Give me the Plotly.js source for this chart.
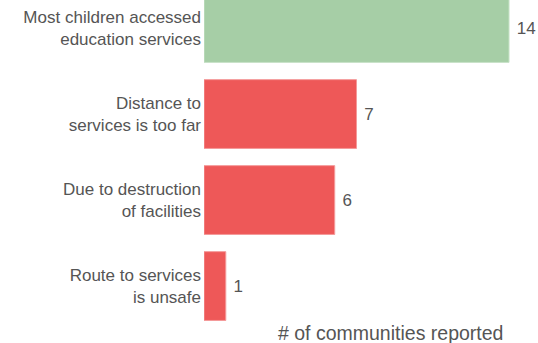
<!DOCTYPE html>
<html>
<head>
<meta charset="utf-8">
<script src="https://cdn.plot.ly/plotly-3.0.1.min.js"></script>
<style>html,body{margin:0;padding:0;background:#fff;}#chart{width:538px;height:343px;}</style>
</head>
<body>
<div id="chart"></div>
<script>
const categories = ["Most children accessed<br>education services", "Distance to<br>services is too far", "Due to destruction<br>of facilities", "Route to services<br>is unsafe"];
const values = [14, 7, 6, 1];
const barColors = ["#a6cea6", "#ee5858", "#ee5858", "#ee5858"];
const lineColors = ["#c8e2c8", "#f49a9a", "#f49a9a", "#f49a9a"];
const axisTitle = "# of communities reported";

const plotLeft = 204, plotRight = 538;
const trace = {
  type: "bar",
  orientation: "h",
  y: categories,
  x: values,
  text: values.map(v => "\u00a0" + v),
  textposition: "outside",
  cliponaxis: false,
  textfont: {family: "Liberation Sans, Arial, sans-serif", size: 17, color: "#555555"},
  marker: {color: barColors, line: {color: lineColors, width: 1}},
  hoverinfo: "none"
};
const layout = {
  width: 538, height: 343,
  margin: {l: plotLeft, r: 0, t: 0, b: 21, pad: 0},
  paper_bgcolor: "#ffffff", plot_bgcolor: "#ffffff",
  showlegend: false,
  bargap: 0.2,
  font: {family: "Liberation Sans, Arial, sans-serif", color: "#555555", size: 17},
  xaxis: {range: [0, 15.33], showgrid: false, zeroline: false, showline: false, showticklabels: false, ticks: ""},
  yaxis: {type: "category", range: [3.418, -0.326], showgrid: false, zeroline: false, showline: false, ticks: "", ticklabelstandoff: 2,
          tickfont: {family: "Liberation Sans, Arial, sans-serif", size: 17, color: "#555555"}},
  annotations: [{
    text: axisTitle, xref: "paper", yref: "paper",
    x: (390.5 - plotLeft) / (plotRight - plotLeft), y: 0, yshift: -11,
    xanchor: "center", yanchor: "middle", showarrow: false,
    font: {family: "Liberation Sans, Arial, sans-serif", size: 19.5, color: "#555555"}
  }]
};
Plotly.newPlot("chart", [trace], layout, {displayModeBar: false, staticPlot: true});
</script>
</body>
</html>
